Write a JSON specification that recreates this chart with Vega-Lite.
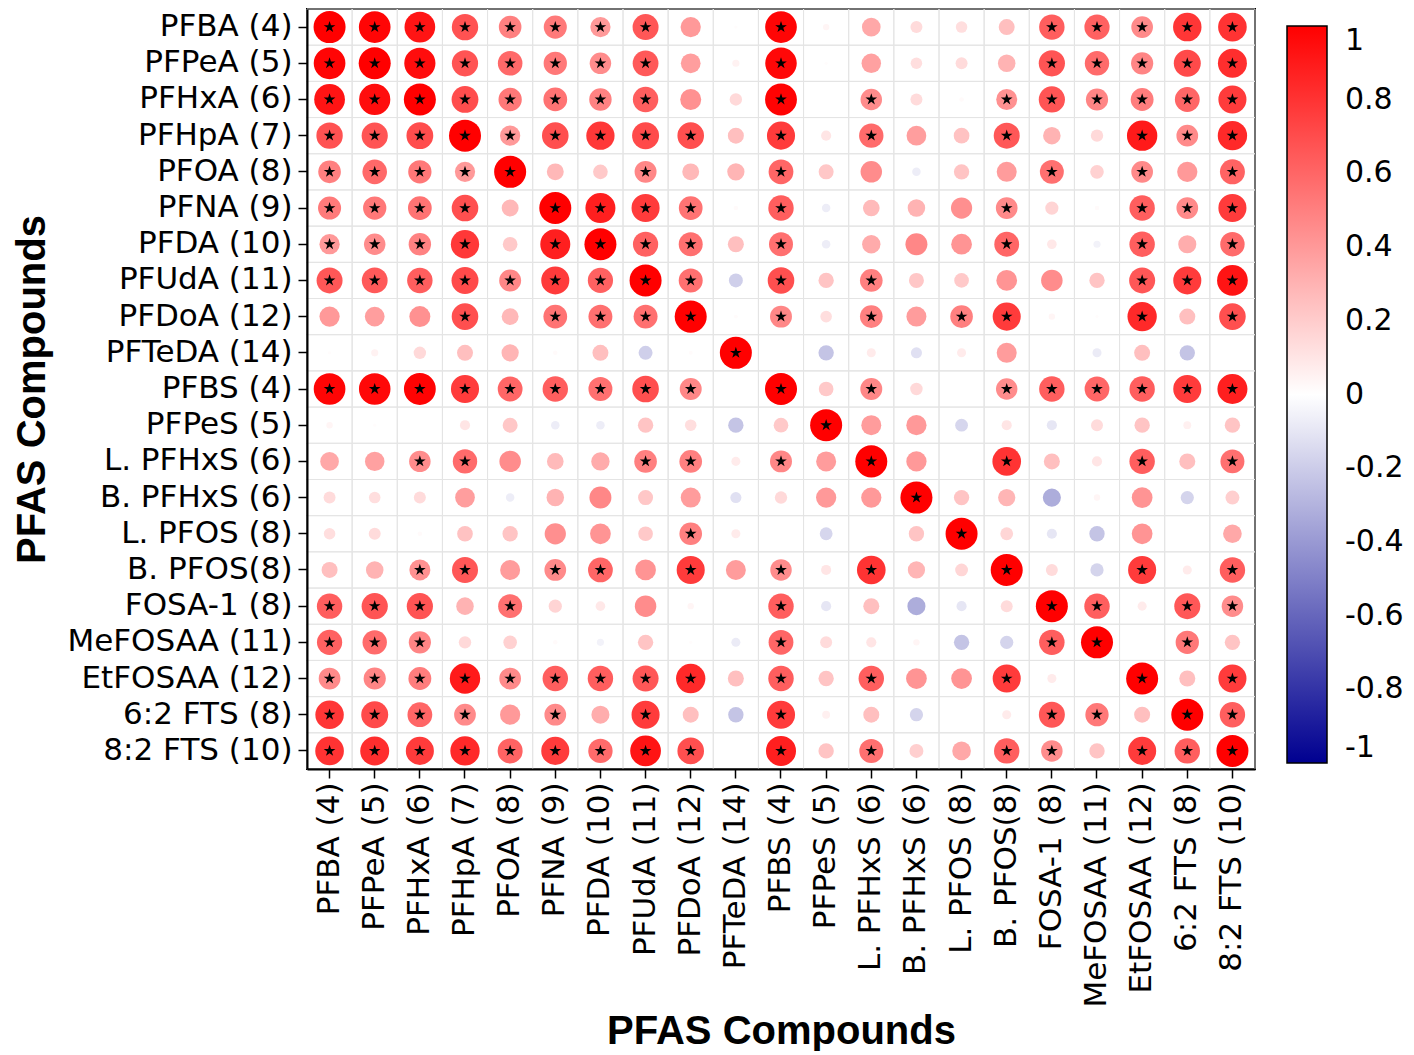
{
"$schema": "https://vega.github.io/schema/vega-lite/v6.json",
"width": 948,
"height": 760,
"padding": {"left": 12, "top": 8, "right": 5, "bottom": 0},
"background": "white",
"config": {"view": {"stroke": "black", "strokeWidth": 2}, "font": "DejaVu Sans"},
"datasets": {
"names": [{"k":0,"n":"PFBA (4)"},{"k":1,"n":"PFPeA (5)"},{"k":2,"n":"PFHxA (6)"},{"k":3,"n":"PFHpA (7)"},{"k":4,"n":"PFOA (8)"},{"k":5,"n":"PFNA (9)"},{"k":6,"n":"PFDA (10)"},{"k":7,"n":"PFUdA (11)"},{"k":8,"n":"PFDoA (12)"},{"k":9,"n":"PFTeDA (14)"},{"k":10,"n":"PFBS (4)"},{"k":11,"n":"PFPeS (5)"},{"k":12,"n":"L. PFHxS (6)"},{"k":13,"n":"B. PFHxS (6)"},{"k":14,"n":"L. PFOS (8)"},{"k":15,"n":"B. PFOS(8)"},{"k":16,"n":"FOSA-1 (8)"},{"k":17,"n":"MeFOSAA (11)"},{"k":18,"n":"EtFOSAA (12)"},{"k":19,"n":"6:2 FTS (8)"},{"k":20,"n":"8:2 FTS (10)"}],
"cells": [
{"i":0,"j":0,"r":1,"sig":1},{"i":0,"j":1,"r":0.98,"sig":1},{"i":0,"j":2,"r":0.92,"sig":1},{"i":0,"j":3,"r":0.68,"sig":1},{"i":0,"j":4,"r":0.5,"sig":1},{"i":0,"j":5,"r":0.52,"sig":1},{"i":0,"j":6,"r":0.4,"sig":1},{"i":0,"j":7,"r":0.66,"sig":1},{"i":0,"j":8,"r":0.4,"sig":0},{"i":0,"j":9,"r":0.01,"sig":0},{"i":0,"j":10,"r":0.98,"sig":1},{"i":0,"j":11,"r":0.04,"sig":0},{"i":0,"j":12,"r":0.34,"sig":0},{"i":0,"j":13,"r":0.14,"sig":0},{"i":0,"j":14,"r":0.13,"sig":0},{"i":0,"j":15,"r":0.25,"sig":0},{"i":0,"j":16,"r":0.63,"sig":1},{"i":0,"j":17,"r":0.62,"sig":1},{"i":0,"j":18,"r":0.46,"sig":1},{"i":0,"j":19,"r":0.79,"sig":1},{"i":0,"j":20,"r":0.8,"sig":1},
{"i":1,"j":0,"r":0.98,"sig":1},{"i":1,"j":1,"r":1,"sig":1},{"i":1,"j":2,"r":0.95,"sig":1},{"i":1,"j":3,"r":0.67,"sig":1},{"i":1,"j":4,"r":0.59,"sig":1},{"i":1,"j":5,"r":0.53,"sig":1},{"i":1,"j":6,"r":0.45,"sig":1},{"i":1,"j":7,"r":0.65,"sig":1},{"i":1,"j":8,"r":0.38,"sig":0},{"i":1,"j":9,"r":0.05,"sig":0},{"i":1,"j":10,"r":0.97,"sig":1},{"i":1,"j":11,"r":0.01,"sig":0},{"i":1,"j":12,"r":0.37,"sig":0},{"i":1,"j":13,"r":0.13,"sig":0},{"i":1,"j":14,"r":0.14,"sig":0},{"i":1,"j":15,"r":0.3,"sig":0},{"i":1,"j":16,"r":0.67,"sig":1},{"i":1,"j":17,"r":0.58,"sig":1},{"i":1,"j":18,"r":0.48,"sig":1},{"i":1,"j":19,"r":0.71,"sig":1},{"i":1,"j":20,"r":0.82,"sig":1},
{"i":2,"j":0,"r":0.92,"sig":1},{"i":2,"j":1,"r":0.95,"sig":1},{"i":2,"j":2,"r":1,"sig":1},{"i":2,"j":3,"r":0.7,"sig":1},{"i":2,"j":4,"r":0.53,"sig":1},{"i":2,"j":5,"r":0.55,"sig":1},{"i":2,"j":6,"r":0.49,"sig":1},{"i":2,"j":7,"r":0.63,"sig":1},{"i":2,"j":8,"r":0.43,"sig":0},{"i":2,"j":9,"r":0.15,"sig":0},{"i":2,"j":10,"r":0.99,"sig":1},{"i":2,"j":11,"r":0,"sig":0},{"i":2,"j":12,"r":0.45,"sig":1},{"i":2,"j":13,"r":0.14,"sig":0},{"i":2,"j":14,"r":0.02,"sig":0},{"i":2,"j":15,"r":0.43,"sig":1},{"i":2,"j":16,"r":0.67,"sig":1},{"i":2,"j":17,"r":0.48,"sig":1},{"i":2,"j":18,"r":0.51,"sig":1},{"i":2,"j":19,"r":0.6,"sig":1},{"i":2,"j":20,"r":0.77,"sig":1},
{"i":3,"j":0,"r":0.68,"sig":1},{"i":3,"j":1,"r":0.67,"sig":1},{"i":3,"j":2,"r":0.7,"sig":1},{"i":3,"j":3,"r":1,"sig":1},{"i":3,"j":4,"r":0.4,"sig":1},{"i":3,"j":5,"r":0.69,"sig":1},{"i":3,"j":6,"r":0.78,"sig":1},{"i":3,"j":7,"r":0.71,"sig":1},{"i":3,"j":8,"r":0.69,"sig":1},{"i":3,"j":9,"r":0.25,"sig":0},{"i":3,"j":10,"r":0.77,"sig":1},{"i":3,"j":11,"r":0.1,"sig":0},{"i":3,"j":12,"r":0.58,"sig":1},{"i":3,"j":13,"r":0.38,"sig":0},{"i":3,"j":14,"r":0.24,"sig":0},{"i":3,"j":15,"r":0.66,"sig":1},{"i":3,"j":16,"r":0.3,"sig":0},{"i":3,"j":17,"r":0.15,"sig":0},{"i":3,"j":18,"r":0.9,"sig":1},{"i":3,"j":19,"r":0.46,"sig":1},{"i":3,"j":20,"r":0.84,"sig":1},
{"i":4,"j":0,"r":0.5,"sig":1},{"i":4,"j":1,"r":0.59,"sig":1},{"i":4,"j":2,"r":0.53,"sig":1},{"i":4,"j":3,"r":0.4,"sig":1},{"i":4,"j":4,"r":1,"sig":1},{"i":4,"j":5,"r":0.28,"sig":0},{"i":4,"j":6,"r":0.21,"sig":0},{"i":4,"j":7,"r":0.47,"sig":1},{"i":4,"j":8,"r":0.28,"sig":0},{"i":4,"j":9,"r":0.29,"sig":0},{"i":4,"j":10,"r":0.6,"sig":1},{"i":4,"j":11,"r":0.22,"sig":0},{"i":4,"j":12,"r":0.45,"sig":0},{"i":4,"j":13,"r":-0.07,"sig":0},{"i":4,"j":14,"r":0.23,"sig":0},{"i":4,"j":15,"r":0.39,"sig":0},{"i":4,"j":16,"r":0.56,"sig":1},{"i":4,"j":17,"r":0.18,"sig":0},{"i":4,"j":18,"r":0.46,"sig":1},{"i":4,"j":19,"r":0.4,"sig":0},{"i":4,"j":20,"r":0.61,"sig":1},
{"i":5,"j":0,"r":0.52,"sig":1},{"i":5,"j":1,"r":0.53,"sig":1},{"i":5,"j":2,"r":0.55,"sig":1},{"i":5,"j":3,"r":0.69,"sig":1},{"i":5,"j":4,"r":0.28,"sig":0},{"i":5,"j":5,"r":1,"sig":1},{"i":5,"j":6,"r":0.88,"sig":1},{"i":5,"j":7,"r":0.77,"sig":1},{"i":5,"j":8,"r":0.55,"sig":1},{"i":5,"j":9,"r":0.02,"sig":0},{"i":5,"j":10,"r":0.63,"sig":1},{"i":5,"j":11,"r":-0.07,"sig":0},{"i":5,"j":12,"r":0.27,"sig":0},{"i":5,"j":13,"r":0.3,"sig":0},{"i":5,"j":14,"r":0.44,"sig":0},{"i":5,"j":15,"r":0.46,"sig":1},{"i":5,"j":16,"r":0.17,"sig":0},{"i":5,"j":17,"r":0.02,"sig":0},{"i":5,"j":18,"r":0.63,"sig":1},{"i":5,"j":19,"r":0.46,"sig":1},{"i":5,"j":20,"r":0.77,"sig":1},
{"i":6,"j":0,"r":0.4,"sig":1},{"i":6,"j":1,"r":0.45,"sig":1},{"i":6,"j":2,"r":0.49,"sig":1},{"i":6,"j":3,"r":0.78,"sig":1},{"i":6,"j":4,"r":0.21,"sig":0},{"i":6,"j":5,"r":0.88,"sig":1},{"i":6,"j":6,"r":1,"sig":1},{"i":6,"j":7,"r":0.62,"sig":1},{"i":6,"j":8,"r":0.56,"sig":1},{"i":6,"j":9,"r":0.25,"sig":0},{"i":6,"j":10,"r":0.56,"sig":1},{"i":6,"j":11,"r":-0.07,"sig":0},{"i":6,"j":12,"r":0.33,"sig":0},{"i":6,"j":13,"r":0.47,"sig":0},{"i":6,"j":14,"r":0.42,"sig":0},{"i":6,"j":15,"r":0.6,"sig":1},{"i":6,"j":16,"r":0.09,"sig":0},{"i":6,"j":17,"r":-0.05,"sig":0},{"i":6,"j":18,"r":0.63,"sig":1},{"i":6,"j":19,"r":0.32,"sig":0},{"i":6,"j":20,"r":0.58,"sig":1},
{"i":7,"j":0,"r":0.66,"sig":1},{"i":7,"j":1,"r":0.65,"sig":1},{"i":7,"j":2,"r":0.63,"sig":1},{"i":7,"j":3,"r":0.71,"sig":1},{"i":7,"j":4,"r":0.47,"sig":1},{"i":7,"j":5,"r":0.77,"sig":1},{"i":7,"j":6,"r":0.62,"sig":1},{"i":7,"j":7,"r":1,"sig":1},{"i":7,"j":8,"r":0.56,"sig":1},{"i":7,"j":9,"r":-0.19,"sig":0},{"i":7,"j":10,"r":0.69,"sig":1},{"i":7,"j":11,"r":0.23,"sig":0},{"i":7,"j":12,"r":0.5,"sig":1},{"i":7,"j":13,"r":0.22,"sig":0},{"i":7,"j":14,"r":0.21,"sig":0},{"i":7,"j":15,"r":0.42,"sig":0},{"i":7,"j":16,"r":0.45,"sig":0},{"i":7,"j":17,"r":0.23,"sig":0},{"i":7,"j":18,"r":0.66,"sig":1},{"i":7,"j":19,"r":0.77,"sig":1},{"i":7,"j":20,"r":0.92,"sig":1},
{"i":8,"j":0,"r":0.4,"sig":0},{"i":8,"j":1,"r":0.38,"sig":0},{"i":8,"j":2,"r":0.43,"sig":0},{"i":8,"j":3,"r":0.69,"sig":1},{"i":8,"j":4,"r":0.28,"sig":0},{"i":8,"j":5,"r":0.55,"sig":1},{"i":8,"j":6,"r":0.56,"sig":1},{"i":8,"j":7,"r":0.56,"sig":1},{"i":8,"j":8,"r":1,"sig":1},{"i":8,"j":9,"r":0.015,"sig":0},{"i":8,"j":10,"r":0.47,"sig":1},{"i":8,"j":11,"r":0.13,"sig":0},{"i":8,"j":12,"r":0.5,"sig":1},{"i":8,"j":13,"r":0.39,"sig":0},{"i":8,"j":14,"r":0.5,"sig":1},{"i":8,"j":15,"r":0.77,"sig":1},{"i":8,"j":16,"r":0.04,"sig":0},{"i":8,"j":17,"r":0.01,"sig":0},{"i":8,"j":18,"r":0.84,"sig":1},{"i":8,"j":19,"r":0.25,"sig":0},{"i":8,"j":20,"r":0.69,"sig":1},
{"i":9,"j":0,"r":0.01,"sig":0},{"i":9,"j":1,"r":0.05,"sig":0},{"i":9,"j":2,"r":0.15,"sig":0},{"i":9,"j":3,"r":0.25,"sig":0},{"i":9,"j":4,"r":0.29,"sig":0},{"i":9,"j":5,"r":0.02,"sig":0},{"i":9,"j":6,"r":0.25,"sig":0},{"i":9,"j":7,"r":-0.19,"sig":0},{"i":9,"j":8,"r":0.015,"sig":0},{"i":9,"j":9,"r":1,"sig":1},{"i":9,"j":10,"r":0,"sig":0},{"i":9,"j":11,"r":-0.23,"sig":0},{"i":9,"j":12,"r":0.08,"sig":0},{"i":9,"j":13,"r":-0.12,"sig":0},{"i":9,"j":14,"r":0.08,"sig":0},{"i":9,"j":15,"r":0.39,"sig":0},{"i":9,"j":16,"r":0,"sig":0},{"i":9,"j":17,"r":-0.08,"sig":0},{"i":9,"j":18,"r":0.25,"sig":0},{"i":9,"j":19,"r":-0.23,"sig":0},{"i":9,"j":20,"r":0,"sig":0},
{"i":10,"j":0,"r":0.98,"sig":1},{"i":10,"j":1,"r":0.97,"sig":1},{"i":10,"j":2,"r":0.99,"sig":1},{"i":10,"j":3,"r":0.77,"sig":1},{"i":10,"j":4,"r":0.6,"sig":1},{"i":10,"j":5,"r":0.63,"sig":1},{"i":10,"j":6,"r":0.56,"sig":1},{"i":10,"j":7,"r":0.69,"sig":1},{"i":10,"j":8,"r":0.47,"sig":1},{"i":10,"j":9,"r":0,"sig":0},{"i":10,"j":10,"r":1,"sig":1},{"i":10,"j":11,"r":0.21,"sig":0},{"i":10,"j":12,"r":0.47,"sig":1},{"i":10,"j":13,"r":0.15,"sig":0},{"i":10,"j":14,"r":0,"sig":0},{"i":10,"j":15,"r":0.45,"sig":1},{"i":10,"j":16,"r":0.63,"sig":1},{"i":10,"j":17,"r":0.6,"sig":1},{"i":10,"j":18,"r":0.63,"sig":1},{"i":10,"j":19,"r":0.77,"sig":1},{"i":10,"j":20,"r":0.88,"sig":1},
{"i":11,"j":0,"r":0.04,"sig":0},{"i":11,"j":1,"r":0.01,"sig":0},{"i":11,"j":2,"r":0,"sig":0},{"i":11,"j":3,"r":0.1,"sig":0},{"i":11,"j":4,"r":0.22,"sig":0},{"i":11,"j":5,"r":-0.07,"sig":0},{"i":11,"j":6,"r":-0.07,"sig":0},{"i":11,"j":7,"r":0.23,"sig":0},{"i":11,"j":8,"r":0.13,"sig":0},{"i":11,"j":9,"r":-0.23,"sig":0},{"i":11,"j":10,"r":0.21,"sig":0},{"i":11,"j":11,"r":1,"sig":1},{"i":11,"j":12,"r":0.39,"sig":0},{"i":11,"j":13,"r":0.4,"sig":0},{"i":11,"j":14,"r":-0.16,"sig":0},{"i":11,"j":15,"r":0.1,"sig":0},{"i":11,"j":16,"r":-0.1,"sig":0},{"i":11,"j":17,"r":0.14,"sig":0},{"i":11,"j":18,"r":0.23,"sig":0},{"i":11,"j":19,"r":0.06,"sig":0},{"i":11,"j":20,"r":0.23,"sig":0},
{"i":12,"j":0,"r":0.34,"sig":0},{"i":12,"j":1,"r":0.37,"sig":0},{"i":12,"j":2,"r":0.45,"sig":1},{"i":12,"j":3,"r":0.58,"sig":1},{"i":12,"j":4,"r":0.45,"sig":0},{"i":12,"j":5,"r":0.27,"sig":0},{"i":12,"j":6,"r":0.33,"sig":0},{"i":12,"j":7,"r":0.5,"sig":1},{"i":12,"j":8,"r":0.5,"sig":1},{"i":12,"j":9,"r":0.08,"sig":0},{"i":12,"j":10,"r":0.47,"sig":1},{"i":12,"j":11,"r":0.39,"sig":0},{"i":12,"j":12,"r":1,"sig":1},{"i":12,"j":13,"r":0.4,"sig":0},{"i":12,"j":14,"r":0,"sig":0},{"i":12,"j":15,"r":0.8,"sig":1},{"i":12,"j":16,"r":0.25,"sig":0},{"i":12,"j":17,"r":0.1,"sig":0},{"i":12,"j":18,"r":0.63,"sig":1},{"i":12,"j":19,"r":0.25,"sig":0},{"i":12,"j":20,"r":0.56,"sig":1},
{"i":13,"j":0,"r":0.14,"sig":0},{"i":13,"j":1,"r":0.13,"sig":0},{"i":13,"j":2,"r":0.14,"sig":0},{"i":13,"j":3,"r":0.38,"sig":0},{"i":13,"j":4,"r":-0.07,"sig":0},{"i":13,"j":5,"r":0.3,"sig":0},{"i":13,"j":6,"r":0.47,"sig":0},{"i":13,"j":7,"r":0.22,"sig":0},{"i":13,"j":8,"r":0.39,"sig":0},{"i":13,"j":9,"r":-0.12,"sig":0},{"i":13,"j":10,"r":0.15,"sig":0},{"i":13,"j":11,"r":0.4,"sig":0},{"i":13,"j":12,"r":0.4,"sig":0},{"i":13,"j":13,"r":1,"sig":1},{"i":13,"j":14,"r":0.23,"sig":0},{"i":13,"j":15,"r":0.29,"sig":0},{"i":13,"j":16,"r":-0.32,"sig":0},{"i":13,"j":17,"r":0.04,"sig":0},{"i":13,"j":18,"r":0.42,"sig":0},{"i":13,"j":19,"r":-0.17,"sig":0},{"i":13,"j":20,"r":0.19,"sig":0},
{"i":14,"j":0,"r":0.13,"sig":0},{"i":14,"j":1,"r":0.14,"sig":0},{"i":14,"j":2,"r":0.02,"sig":0},{"i":14,"j":3,"r":0.24,"sig":0},{"i":14,"j":4,"r":0.23,"sig":0},{"i":14,"j":5,"r":0.44,"sig":0},{"i":14,"j":6,"r":0.42,"sig":0},{"i":14,"j":7,"r":0.21,"sig":0},{"i":14,"j":8,"r":0.5,"sig":1},{"i":14,"j":9,"r":0.08,"sig":0},{"i":14,"j":10,"r":0,"sig":0},{"i":14,"j":11,"r":-0.16,"sig":0},{"i":14,"j":12,"r":0,"sig":0},{"i":14,"j":13,"r":0.23,"sig":0},{"i":14,"j":14,"r":1,"sig":1},{"i":14,"j":15,"r":0.16,"sig":0},{"i":14,"j":16,"r":-0.1,"sig":0},{"i":14,"j":17,"r":-0.23,"sig":0},{"i":14,"j":18,"r":0.42,"sig":0},{"i":14,"j":19,"r":0,"sig":0},{"i":14,"j":20,"r":0.34,"sig":0},
{"i":15,"j":0,"r":0.25,"sig":0},{"i":15,"j":1,"r":0.3,"sig":0},{"i":15,"j":2,"r":0.43,"sig":1},{"i":15,"j":3,"r":0.66,"sig":1},{"i":15,"j":4,"r":0.39,"sig":0},{"i":15,"j":5,"r":0.46,"sig":1},{"i":15,"j":6,"r":0.6,"sig":1},{"i":15,"j":7,"r":0.42,"sig":0},{"i":15,"j":8,"r":0.77,"sig":1},{"i":15,"j":9,"r":0.39,"sig":0},{"i":15,"j":10,"r":0.45,"sig":1},{"i":15,"j":11,"r":0.1,"sig":0},{"i":15,"j":12,"r":0.8,"sig":1},{"i":15,"j":13,"r":0.29,"sig":0},{"i":15,"j":14,"r":0.16,"sig":0},{"i":15,"j":15,"r":1,"sig":1},{"i":15,"j":16,"r":0.14,"sig":0},{"i":15,"j":17,"r":-0.17,"sig":0},{"i":15,"j":18,"r":0.77,"sig":1},{"i":15,"j":19,"r":0.08,"sig":0},{"i":15,"j":20,"r":0.63,"sig":1},
{"i":16,"j":0,"r":0.63,"sig":1},{"i":16,"j":1,"r":0.67,"sig":1},{"i":16,"j":2,"r":0.67,"sig":1},{"i":16,"j":3,"r":0.3,"sig":0},{"i":16,"j":4,"r":0.56,"sig":1},{"i":16,"j":5,"r":0.17,"sig":0},{"i":16,"j":6,"r":0.09,"sig":0},{"i":16,"j":7,"r":0.45,"sig":0},{"i":16,"j":8,"r":0.04,"sig":0},{"i":16,"j":9,"r":0,"sig":0},{"i":16,"j":10,"r":0.63,"sig":1},{"i":16,"j":11,"r":-0.1,"sig":0},{"i":16,"j":12,"r":0.25,"sig":0},{"i":16,"j":13,"r":-0.32,"sig":0},{"i":16,"j":14,"r":-0.1,"sig":0},{"i":16,"j":15,"r":0.14,"sig":0},{"i":16,"j":16,"r":1,"sig":1},{"i":16,"j":17,"r":0.63,"sig":1},{"i":16,"j":18,"r":0.08,"sig":0},{"i":16,"j":19,"r":0.66,"sig":1},{"i":16,"j":20,"r":0.45,"sig":1},
{"i":17,"j":0,"r":0.62,"sig":1},{"i":17,"j":1,"r":0.58,"sig":1},{"i":17,"j":2,"r":0.48,"sig":1},{"i":17,"j":3,"r":0.15,"sig":0},{"i":17,"j":4,"r":0.18,"sig":0},{"i":17,"j":5,"r":0.02,"sig":0},{"i":17,"j":6,"r":-0.05,"sig":0},{"i":17,"j":7,"r":0.23,"sig":0},{"i":17,"j":8,"r":0.01,"sig":0},{"i":17,"j":9,"r":-0.08,"sig":0},{"i":17,"j":10,"r":0.6,"sig":1},{"i":17,"j":11,"r":0.14,"sig":0},{"i":17,"j":12,"r":0.1,"sig":0},{"i":17,"j":13,"r":0.04,"sig":0},{"i":17,"j":14,"r":-0.23,"sig":0},{"i":17,"j":15,"r":-0.17,"sig":0},{"i":17,"j":16,"r":0.63,"sig":1},{"i":17,"j":17,"r":1,"sig":1},{"i":17,"j":18,"r":0,"sig":0},{"i":17,"j":19,"r":0.53,"sig":1},{"i":17,"j":20,"r":0.23,"sig":0},
{"i":18,"j":0,"r":0.46,"sig":1},{"i":18,"j":1,"r":0.48,"sig":1},{"i":18,"j":2,"r":0.51,"sig":1},{"i":18,"j":3,"r":0.9,"sig":1},{"i":18,"j":4,"r":0.46,"sig":1},{"i":18,"j":5,"r":0.63,"sig":1},{"i":18,"j":6,"r":0.63,"sig":1},{"i":18,"j":7,"r":0.66,"sig":1},{"i":18,"j":8,"r":0.84,"sig":1},{"i":18,"j":9,"r":0.25,"sig":0},{"i":18,"j":10,"r":0.63,"sig":1},{"i":18,"j":11,"r":0.23,"sig":0},{"i":18,"j":12,"r":0.63,"sig":1},{"i":18,"j":13,"r":0.42,"sig":0},{"i":18,"j":14,"r":0.42,"sig":0},{"i":18,"j":15,"r":0.77,"sig":1},{"i":18,"j":16,"r":0.08,"sig":0},{"i":18,"j":17,"r":0,"sig":0},{"i":18,"j":18,"r":1,"sig":1},{"i":18,"j":19,"r":0.25,"sig":0},{"i":18,"j":20,"r":0.77,"sig":1},
{"i":19,"j":0,"r":0.79,"sig":1},{"i":19,"j":1,"r":0.71,"sig":1},{"i":19,"j":2,"r":0.6,"sig":1},{"i":19,"j":3,"r":0.46,"sig":1},{"i":19,"j":4,"r":0.4,"sig":0},{"i":19,"j":5,"r":0.46,"sig":1},{"i":19,"j":6,"r":0.32,"sig":0},{"i":19,"j":7,"r":0.77,"sig":1},{"i":19,"j":8,"r":0.25,"sig":0},{"i":19,"j":9,"r":-0.23,"sig":0},{"i":19,"j":10,"r":0.77,"sig":1},{"i":19,"j":11,"r":0.06,"sig":0},{"i":19,"j":12,"r":0.25,"sig":0},{"i":19,"j":13,"r":-0.17,"sig":0},{"i":19,"j":14,"r":0,"sig":0},{"i":19,"j":15,"r":0.08,"sig":0},{"i":19,"j":16,"r":0.66,"sig":1},{"i":19,"j":17,"r":0.53,"sig":1},{"i":19,"j":18,"r":0.25,"sig":0},{"i":19,"j":19,"r":1,"sig":1},{"i":19,"j":20,"r":0.63,"sig":1},
{"i":20,"j":0,"r":0.8,"sig":1},{"i":20,"j":1,"r":0.82,"sig":1},{"i":20,"j":2,"r":0.77,"sig":1},{"i":20,"j":3,"r":0.84,"sig":1},{"i":20,"j":4,"r":0.61,"sig":1},{"i":20,"j":5,"r":0.77,"sig":1},{"i":20,"j":6,"r":0.58,"sig":1},{"i":20,"j":7,"r":0.92,"sig":1},{"i":20,"j":8,"r":0.69,"sig":1},{"i":20,"j":9,"r":0,"sig":0},{"i":20,"j":10,"r":0.88,"sig":1},{"i":20,"j":11,"r":0.23,"sig":0},{"i":20,"j":12,"r":0.56,"sig":1},{"i":20,"j":13,"r":0.19,"sig":0},{"i":20,"j":14,"r":0.34,"sig":0},{"i":20,"j":15,"r":0.63,"sig":1},{"i":20,"j":16,"r":0.45,"sig":1},{"i":20,"j":17,"r":0.23,"sig":0},{"i":20,"j":18,"r":0.77,"sig":1},{"i":20,"j":19,"r":0.63,"sig":1},{"i":20,"j":20,"r":1,"sig":1}
]
},
"data": {"name": "cells"},
"transform": [
{"lookup": "i", "from": {"data": {"name": "names"}, "key": "k", "fields": ["n"]}, "as": ["rowName"]},
{"lookup": "j", "from": {"data": {"name": "names"}, "key": "k", "fields": ["n"]}, "as": ["colName"]}
],
"encoding": {
"x": {"field": "colName", "type": "ordinal", "sort": {"field": "j", "op": "min"}, "scale": {"paddingInner": 0, "paddingOuter": 0},
"axis": {"orient": "bottom", "title": "PFAS Compounds", "titleFont": "Liberation Sans", "titleFontSize": 40, "titleFontWeight": "bold", "titleColor": "black", "titleY": 262, "titleBaseline": "middle", "labelAngle": 270, "labelFontSize": 31, "labelLimit": 400, "labelColor": "black", "labelPadding": 4, "tickSize": 9, "tickColor": "black", "tickWidth": 1.5, "domainColor": "black", "domainWidth": 2, "grid": false}},
"y": {"field": "rowName", "type": "ordinal", "sort": {"field": "i", "op": "min"}, "scale": {"paddingInner": 0, "paddingOuter": 0},
"axis": {"orient": "left", "title": "PFAS Compounds", "titleFont": "Liberation Sans", "titleFontSize": 40, "titleFontWeight": "bold", "titleColor": "black", "titleX": -275, "titleBaseline": "middle", "labelFontSize": 31, "labelLimit": 400, "labelColor": "black", "labelPadding": 6, "tickSize": 9, "tickColor": "black", "tickWidth": 1.5, "domainColor": "black", "domainWidth": 2, "grid": false}}
},
"layer": [
{
"mark": {"type": "rect", "fill": "white", "fillOpacity": 0, "stroke": "#e4e4e4", "strokeWidth": 1}
},
{
"mark": {"type": "circle", "opacity": 1, "strokeWidth": 0},
"encoding": {
"color": {"field": "r", "type": "quantitative",
"scale": {"domain": [-1, 0, 1], "range": ["#000090", "#ffffff", "#ff0000"], "interpolate": "rgb"},
"legend": {"type": "gradient", "orient": "none", "legendX": 980, "legendY": 17, "direction": "vertical", "title": null, "gradientLength": 737, "gradientThickness": 40, "gradientStrokeColor": "black", "gradientStrokeWidth": 1.5, "values": [1, 0.8, 0.6, 0.4, 0.2, 0, -0.2, -0.4, -0.6, -0.8, -1], "labelFontSize": 30, "labelColor": "black", "labelOffset": 18, "labelExpr": "toString(datum.value)", "labelOverlap": false}},
"size": {"field": "r", "type": "quantitative", "scale": {"domain": [-1.001, 0, 1.001], "range": [1026, 0, 1026]}, "legend": null}
}
},
{
"transform": [{"filter": "datum.sig == 1"}],
"mark": {"type": "point", "shape": "M0,-1L0.225,-0.309L0.951,-0.309L0.363,0.118L0.588,0.809L0,0.382L-0.588,0.809L-0.363,0.118L-0.951,-0.309L-0.225,-0.309Z", "filled": true, "color": "black", "opacity": 1, "size": 150}
}
]
}
